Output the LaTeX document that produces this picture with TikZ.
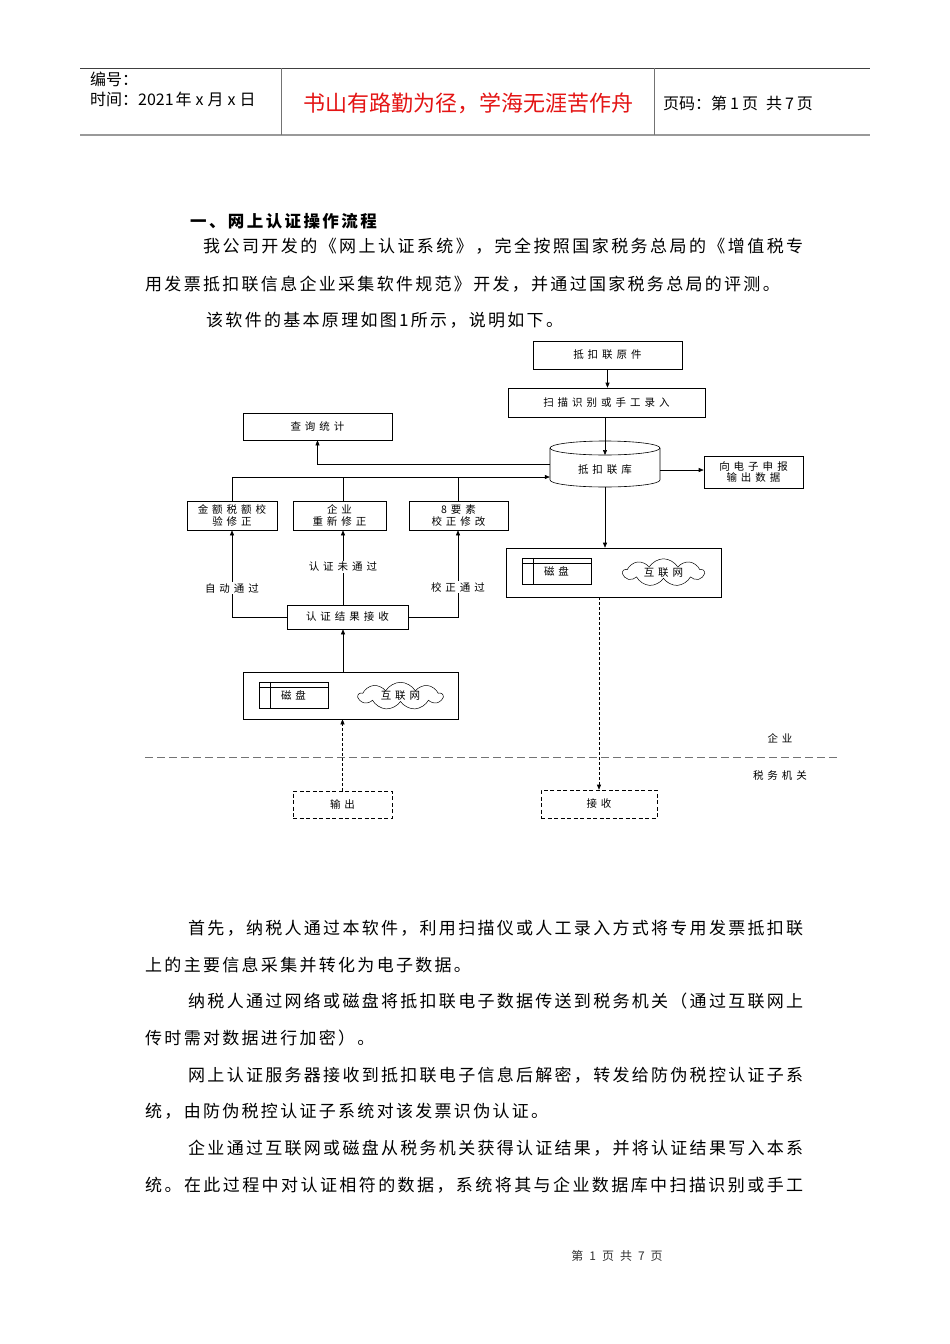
\documentclass[tikz,border=0pt]{standalone}
\usepackage{fontspec}
\setmainfont{Liberation Serif}
\newfontfamily\cjk{Noto Sans CJK SC}
\usetikzlibrary{arrows.meta,shapes.symbols}
\definecolor{motto}{RGB}{228,20,20}
\makeatletter
\def\spaced#1#2{\def\sp@skip{\hskip#1\relax}\sp@first#2\sp@end}
\def\sp@first#1{\ifx#1\sp@end\else#1\expandafter\sp@next\fi}
\def\sp@next#1{\ifx#1\sp@end\else\sp@skip#1\expandafter\sp@next\fi}
\def\sp@end{\sp@end}
\makeatother
\newcommand\dfont{\cjk\fontsize{10.5}{11.5}\selectfont}
\newcommand\bfont{\cjk\fontsize{17}{19}\selectfont}
\newcommand\hfont{\cjk\bfseries\fontsize{16.5}{18}\selectfont}
\newcommand\dt[1]{\spaced{4pt}{#1}}
\newcommand\bt[1]{\spaced{2.3pt}{#1}}
\newcommand\jt[2]{\hbox to #1{\spaced{0pt plus 1fil}{#2}}}
\tikzset{
  box/.style={draw, line width=0.6pt, inner sep=0, align=center, font=\dfont},
  dbox/.style={box, dash pattern=on 4pt off 2.5pt},
  lab/.style={font=\dfont, inner sep=1.5pt, fill=white},
  arr/.style={line width=0.6pt, -{Triangle[length=5pt,width=4pt]}},
  darr/.style={arr, dash pattern=on 3pt off 2pt},
  body/.style={anchor=west, inner sep=0, font=\bfont},
  cloudn/.style={cloud, cloud puffs=9, cloud puff arc=120, aspect=3.2, draw, line width=0.5pt, inner sep=0, font=\dfont},
  diskn/.style={draw, line width=0.5pt, minimum width=69pt, minimum height=26pt, inner sep=0, font=\dfont},
}
\begin{document}
\begin{tikzpicture}[x=1pt,y=-1pt]
\fill[white] (0,0) rectangle (950,1344);
\useasboundingbox (0,0) rectangle (950,1344);

% ---------- header ----------
\draw[black!75, line width=0.8pt] (80,68) -- (870,68);
\draw[black!40, line width=2pt] (80,135) -- (870,135);
\draw[black!55, line width=0.8pt] (281,68) -- (281,135);
\draw[black!55, line width=0.8pt] (654,68) -- (654,135);
\node[anchor=west, inner sep=0, font=\cjk\fontsize{16}{18}\selectfont] (num) at (90,79) {编号：};
\node[anchor=west, inner sep=0, font=\cjk\fontsize{16}{18}\selectfont] (time) at (90,99) {时间：2021\hspace{2pt}年\hspace{4pt}x\hspace{4pt}月\hspace{4pt}x\hspace{4pt}日};
\node[inner sep=0, text=motto, font=\cjk\fontsize{22}{24}\selectfont] (motto) at (468,103) {书山有路勤为径，学海无涯苦作舟};
\node[anchor=west, inner sep=0, font=\cjk\fontsize{16}{18}\selectfont] (page) at (663,103) {页码：第\hspace{3pt}1\hspace{3pt}页\hspace{8pt}共\hspace{3pt}7\hspace{3pt}页};

% ---------- top text ----------
\node[body, font=\hfont] (h1) at (190,221) {\spaced{2.4pt}{一、网上认证操作流程}};
\node[body] (t1) at (203,246) {\jt{600pt}{我公司开发的《网上认证系统》，完全按照国家税务总局的《增值税专}};
\node[body] (t2) at (145,284) {\bt{用发票抵扣联信息企业采集软件规范》开发，并通过国家税务总局的评测。}};
\node[body] (t3) at (206,320) {\bt{该软件的基本原理如图1所示，说明如下。}};

% ---------- diagram nodes ----------
\node[box, minimum width=149pt, minimum height=28pt] (orig) at (607.5,355) {\dt{抵扣联原件}};
\node[box, minimum width=197pt, minimum height=29pt] (scan) at (606.5,402.5) {\dt{扫描识别或手工录入}};
\node[box, minimum width=149pt, minimum height=27pt] (query) at (317.5,426.5) {\dt{查询统计}};

% database cylinder
\node[minimum width=110pt, minimum height=46pt, inner sep=0] (db) at (605,464) {};
\draw[line width=0.6pt] (550,448) -- (550,480) arc[start angle=180, end angle=360, x radius=55pt, y radius=7pt] -- (660,448);
\draw[line width=0.6pt] (605,448) ellipse[x radius=55pt, y radius=7pt];
\node[font=\dfont, inner sep=0] (dbt) at (605,470) {\dt{抵扣联库}};
\coordinate (dbtop) at (605,455);

\node[box, minimum width=99pt, minimum height=32pt] (out) at (753.5,472) {\dt{向电子申报}\\\dt{输出数据}};

\node[box, minimum width=90pt, minimum height=29pt] (box1) at (232,515.5) {\dt{金额税额校}\\\dt{验修正}};
\node[box, minimum width=93pt, minimum height=29pt] (box2) at (339.5,515.5) {\dt{企业}\\\dt{重新修正}};
\node[box, minimum width=99pt, minimum height=29pt] (box3) at (458.5,515.5) {\dt{8要素}\\\dt{校正修改}};

\node[box, minimum width=121pt, minimum height=24pt] (recv) at (347.5,617) {\dt{认证结果接收}};

% right transfer box
\node[box, minimum width=215pt, minimum height=49pt] (rbox) at (613.5,572.5) {};
\node[diskn] (disk1) at (556.5,571) {\dt{磁盘}};
\draw[line width=0.5pt] ([xshift=11pt]disk1.north west) -- ([xshift=11pt]disk1.south west);
\draw[line width=0.5pt] ([yshift=-5pt]disk1.north west) -- ([yshift=-5pt]disk1.north east);
\node[cloudn, minimum width=81pt, minimum height=25pt] (cloud1) at (663.5,572.5) {\dt{互联网}};

% left transfer box
\node[box, minimum width=215pt, minimum height=47pt] (lbox) at (350.5,695.5) {};
\node[diskn] (disk2) at (293.5,695) {\dt{磁盘}};
\draw[line width=0.5pt] ([xshift=11pt]disk2.north west) -- ([xshift=11pt]disk2.south west);
\draw[line width=0.5pt] ([yshift=-5pt]disk2.north west) -- ([yshift=-5pt]disk2.north east);
\node[cloudn, minimum width=84pt, minimum height=27pt] (cloud2) at (400.5,696) {\dt{互联网}};

\node[dbox, minimum width=99pt, minimum height=27pt] (outp) at (342.5,804.5) {\dt{输出}};
\node[dbox, minimum width=116pt, minimum height=28pt] (rcv) at (599,804) {\dt{接收}};

% divider
\coordinate (dl) at (145,757);
\coordinate (dr) at (840,757);
\draw[black!55, line width=0.7pt, dash pattern=on 8pt off 4pt] (dl) -- (dr);
\node[font=\dfont, inner sep=0] (ent) at (780,738) {\dt{企业}};
\node[font=\dfont, inner sep=0] (tax) at (780,776) {\dt{税务机关}};

% ---------- connectors ----------
\coordinate (b2) at (232,477);
\coordinate (v2) at (343,477);
\coordinate (v3) at (458,477);
\coordinate (b3) at (660,470);

\draw[arr] (orig.south) -- (orig.south |- scan.north);
\draw[arr] (dbtop |- scan.south) -- (dbtop);
\draw[arr] (db.west) -| (query.south);
\draw[arr] (b2) -- (b2 -| db.west);
\draw[line width=0.6pt] (b2) -- (b2 |- box1.north);
\draw[line width=0.6pt] (v2) -- (v2 |- box2.north);
\draw[line width=0.6pt] (v3) -- (v3 |- box3.north);
\draw[arr] (b3) -- (b3 -| out.west);
\draw[arr] (db.south) -- (db.south |- rbox.north);

\draw[arr] (recv.north -| v2) -- (box2.south -| v2);
\draw[arr] (recv.west) -| (box1.south);
\draw[arr] (recv.east) -| (box3.south -| v3);
\draw[arr] (lbox.north -| v2) -- (recv.south -| v2);
\draw[darr] (outp.north) -- (outp.north |- lbox.south);
\draw[darr] (rbox.south -| rcv.north) -- (rcv.north);

\node[lab] (l1) at (232,588) {\dt{自动通过}};
\node[lab] (l2) at (343,567) {\dt{认证未通过}};
\node[lab] (l3) at (458,587) {\dt{校正通过}};

% ---------- lower text ----------
\node[body] (p1) at (188,928) {\jt{615pt}{首先，纳税人通过本软件，利用扫描仪或人工录入方式将专用发票抵扣联}};
\node[body] (p2) at (145,965) {\bt{上的主要信息采集并转化为电子数据。}};
\node[body] (p3) at (188,1001) {\jt{615pt}{纳税人通过网络或磁盘将抵扣联电子数据传送到税务机关（通过互联网上}};
\node[body] (p4) at (145,1038) {\bt{传时需对数据进行加密）。}};
\node[body] (p5) at (188,1075) {\jt{615pt}{网上认证服务器接收到抵扣联电子信息后解密，转发给防伪税控认证子系}};
\node[body] (p6) at (145,1111) {\bt{统，由防伪税控认证子系统对该发票识伪认证。}};
\node[body] (p7) at (188,1148) {\jt{615pt}{企业通过互联网或磁盘从税务机关获得认证结果，并将认证结果写入本系}};
\node[body] (p8) at (145,1185) {\jt{658pt}{统。在此过程中对认证相符的数据，系统将其与企业数据库中扫描识别或手工}};

% ---------- footer ----------
\node[inner sep=0, text=black!80, font=\cjk\fontsize{12}{14}\selectfont] (foot) at (617,1256) {第\hspace{6pt}1\hspace{6pt}页\hspace{6pt}共\hspace{6pt}7\hspace{6pt}页};
\end{tikzpicture}
\end{document}
